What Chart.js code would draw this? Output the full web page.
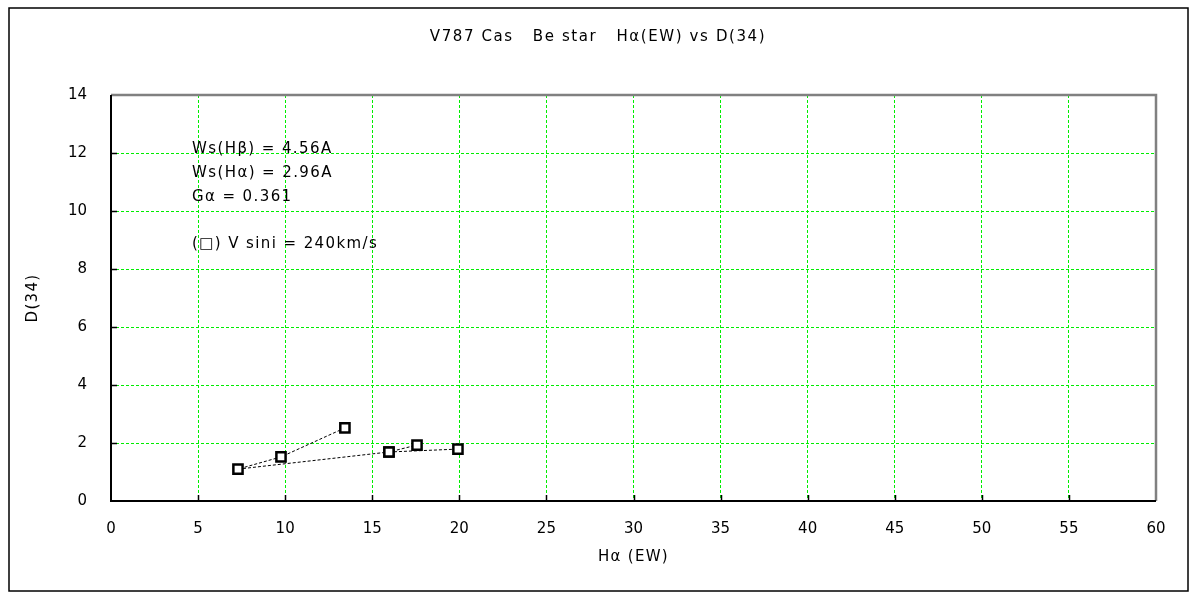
<!DOCTYPE html>
<html>
<head>
<meta charset="utf-8">
<script src="https://cdn.jsdelivr.net/npm/chart.js@4/dist/chart.umd.min.js"></script>
<style>
html,body{margin:0;padding:0;background:#fff;}
#wrap{width:1200px;height:600px;position:relative;}
</style>
</head>
<body>
<div id="wrap"><canvas id="c" width="1200" height="600"></canvas></div>
<script>
const chartTitle = "V787 Cas   Be star   H\u03b1(EW) vs D(34)";
const xTitle = "H\u03b1 (EW)";
const yTitle = "D(34)";
const notes = ["Ws(H\u03b2) = 4.56A", "Ws(H\u03b1) = 2.96A", "G\u03b1 = 0.361", "", "(\u25a1) V sini = 240km/s"];

// Observations (H-alpha EW, D(34))
const pathA_x = [13.43, 9.76, 7.29, 15.96, 17.57];
const pathA_y = [2.52, 1.52, 1.10, 1.69, 1.93];
const pathB_x = [15.96, 19.92];
const pathB_y = [1.69, 1.79];

const xMin = 0, xMax = 60, xStep = 5;
const yMin = 0, yMax = 14, yStep = 2;

const FONT = "'DejaVu Sans', sans-serif";
const GRID = '#00ee00';

function pts(xs, ys){ return xs.map((x,i)=>({x:x, y:ys[i]})); }

const frame = {
  id:'frame',
  beforeDraw(chart){
    const ctx = chart.ctx;
    ctx.save();
    ctx.fillStyle='#fff';
    ctx.fillRect(0,0,chart.width,chart.height);
    ctx.restore();
  },
  afterDraw(chart){
    const ctx = chart.ctx, a = chart.chartArea;
    const xs = chart.scales.x, ys = chart.scales.y;
    ctx.save();
    ctx.strokeStyle='#000'; ctx.lineWidth=1.5;
    ctx.strokeRect(9,8,1179,583);
    ctx.strokeStyle='#808080'; ctx.lineWidth=2.5;
    ctx.beginPath();
    ctx.moveTo(a.left, a.top); ctx.lineTo(a.right, a.top); ctx.lineTo(a.right, a.bottom);
    ctx.stroke();
    ctx.strokeStyle='#000'; ctx.lineWidth=2;
    ctx.beginPath();
    ctx.moveTo(a.left, a.top); ctx.lineTo(a.left, a.bottom); ctx.lineTo(a.right, a.bottom);
    ctx.stroke();
    ctx.lineWidth=1.5;
    ctx.beginPath();
    for(let v=xMin+xStep; v<xMax; v+=xStep){
      const px = Math.round(xs.getPixelForValue(v))+0.5;
      ctx.moveTo(px, a.bottom); ctx.lineTo(px, a.bottom-6);
    }
    for(let v=yMin+yStep; v<yMax; v+=yStep){
      const py = Math.round(ys.getPixelForValue(v))+0.5;
      ctx.moveTo(a.left, py); ctx.lineTo(a.left+6, py);
    }
    ctx.stroke();
    ctx.fillStyle='#000';
    ctx.font = "15px " + FONT;
    ctx.textBaseline='middle';
    ctx.textAlign='center';
    ctx.letterSpacing = '1.6px';
    ctx.fillText(chartTitle, 598, 37);
    ctx.letterSpacing = '1.3px';
    ctx.fillText(xTitle, (a.left+a.right)/2, 557);
    ctx.save();
    ctx.translate(33, (a.top+a.bottom)/2);
    ctx.rotate(-Math.PI/2);
    ctx.fillText(yTitle, 0, 0);
    ctx.restore();
    ctx.textAlign='left';
    ctx.letterSpacing = '1.4px';
    const y0 = 149;
    notes.forEach((t,i)=>{ if(t) ctx.fillText(t, 192, y0 + i*24 - (i===4?1:0)); });
    ctx.restore();
  }
};

const lineStyle = {
  showLine:true,
  borderColor:'#000',
  borderWidth:1,
  borderDash:[3,2],
  pointStyle:'rect',
  pointRadius:6.5,
  pointHoverRadius:6.5,
  pointBorderWidth:2.5,
  pointBorderColor:'#000',
  pointBackgroundColor:'#fff',
  fill:false,
  tension:0
};

new Chart(document.getElementById('c'), {
  type:'scatter',
  data:{
    datasets:[
      Object.assign({label:'A', data:pts(pathA_x, pathA_y)}, lineStyle),
      Object.assign({label:'B', data:pts(pathB_x, pathB_y)}, lineStyle)
    ]
  },
  options:{
    responsive:false,
    animation:false,
    devicePixelRatio:1,
    layout:{padding:{left:0, top:95, right:44, bottom:0}},
    plugins:{legend:{display:false}, title:{display:false}, tooltip:{enabled:false}},
    scales:{
      x:{
        type:'linear', min:xMin, max:xMax,
        border:{display:false, dash:[3,2]},
        grid:{color:GRID, lineWidth:1, drawTicks:false},
        ticks:{stepSize:xStep, color:'#000', font:{family:FONT, size:15}, padding:19, maxRotation:0},
        afterFit(s){ s.height = 99; }
      },
      y:{
        type:'linear', min:yMin, max:yMax,
        border:{display:false, dash:[3,2]},
        grid:{color:GRID, lineWidth:1, drawTicks:false},
        ticks:{stepSize:yStep, color:'#000', font:{family:FONT, size:15}, padding:24},
        afterFit(s){ s.width = 111; }
      }
    }
  },
  plugins:[frame]
});
</script>
</body>
</html>
